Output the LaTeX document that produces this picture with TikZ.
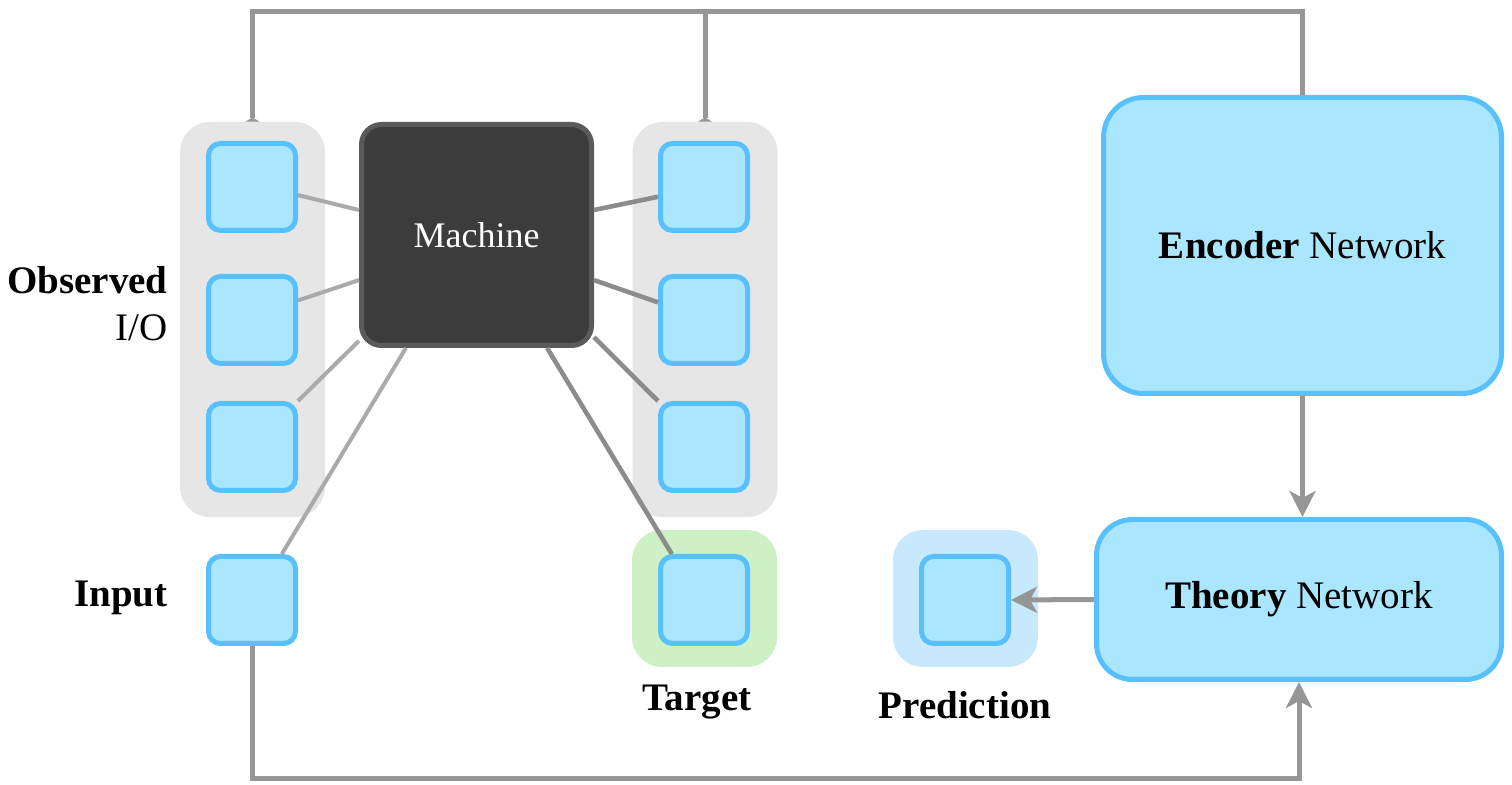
\documentclass[tikz,border=0pt]{standalone}
\usepackage{fontspec}
\setmainfont{Liberation Serif}
\usetikzlibrary{arrows.meta}
\definecolor{boxfill}{RGB}{170,230,254}
\definecolor{boxline}{RGB}{88,192,252}
\definecolor{groupgray}{RGB}{230,230,230}
\definecolor{targetbg}{RGB}{205,241,196}
\definecolor{predbg}{RGB}{200,233,252}
\definecolor{machfill}{RGB}{60,60,60}
\definecolor{machline}{RGB}{90,90,90}
\definecolor{wirelight}{RGB}{170,170,170}
\definecolor{wiredark}{RGB}{140,140,140}
\definecolor{flowgray}{RGB}{150,150,150}
\begin{document}
\begin{tikzpicture}[x=0.5pt,y=-0.5pt,line cap=butt,line join=miter,
	cell/.style={draw=boxline,fill=boxfill,line width=2.5pt,rounded corners=6pt,minimum size=43.5pt,inner sep=0pt},
	group/.style={fill=groupgray,rounded corners=15pt,minimum width=72.5pt,minimum height=197.5pt,inner sep=0pt},
	halo/.style={rounded corners=15pt,minimum width=72.5pt,minimum height=68.5pt,inner sep=0pt},
	net/.style={draw=boxline,fill=boxfill,line width=2.5pt,font=\fontsize{19.5}{23.5}\selectfont},
	lab/.style={font=\fontsize{19.5}{23.5}\selectfont,inner sep=0pt},
	wirel/.style={draw=wirelight,line width=2pt},
	wired/.style={draw=wiredark,line width=2.3pt},
	flow/.style={draw=flowgray,line width=2.5pt},
	>={Stealth[length=13pt,width=13pt,inset=3.5pt]}]
	\useasboundingbox (0,0) rectangle (1512,785);
	% backgrounds
	\node[group] (lgroup) at (252.5,319.5) {};
	\node[group] (rgroup) at (705,319.5) {};
	\node[halo,fill=targetbg] (tbg) at (704.5,598.5) {};
	\node[halo,fill=predbg] (pbg) at (965.5,598.5) {};
	% boxes
	\node[cell] (o1) at (252,187) {};
	\node[cell] (o2) at (252,320) {};
	\node[cell] (o3) at (252,447) {};
	\node[cell] (input) at (252,600) {};
	\node[cell] (r1) at (704,187) {};
	\node[cell] (r2) at (704,320) {};
	\node[cell] (r3) at (704,447) {};
	\node[cell] (target) at (704,600) {};
	\node[cell] (pred) at (965,600) {};
	\node[draw=machline,fill=machfill,line width=2.5pt,rounded corners=10pt,minimum width=115pt,minimum height=110.5pt,text=white,font=\fontsize{18}{21}\selectfont] (machine) at (476.5,235) {Machine};
	\node[net,rounded corners=20pt,minimum width=199pt,minimum height=148pt] (encoder) at (1302.5,245.5) {\textbf{Encoder} Network};
	\node[net,rounded corners=18pt,minimum width=202.5pt,minimum height=80pt] (theory) at (1299,599.5) {\textbf{Theory} Network};
	% labels
	\node[lab,anchor=east,align=right] (obslab) at (168,304) {\textbf{Observed}\\I/O};
	\node[lab,anchor=east] (inlab) at (168,598) {\textbf{Input}};
	\node[lab] (tlab) at (697,702) {\textbf{Target}};
	\node[lab] (plab) at (965,705) {\textbf{Prediction}};
	% machine wires
	\draw[wirel] (o1.350)--(machine.168) (o2.23)--(machine.201) (o3.north east)--(machine.222) (input.57)--(machine.238);
	\draw[wired] (r1.192)--(machine.12) (r2.159)--(machine.339) (r3.north west)--(machine.319) (target.125)--(machine.302);
	% flow
	\coordinate (topbar) at (705,12);
	\coordinate (botbar) at (700,779);
	\draw[flow,-{Triangle[reversed,length=2pt,width=7pt]}] (encoder.north) |- (topbar) -| (lgroup.north);
	\draw[flow,-{Triangle[reversed,length=2pt,width=7pt]}] (topbar)--(rgroup.north);
	\draw[flow,->] (encoder.south)--(encoder.south |- theory.north);
	\draw[flow,->] (theory.west)--(pred.east);
	\draw[flow,->] (input.south) |- (botbar) -| (theory.south);
\end{tikzpicture}
\end{document}
